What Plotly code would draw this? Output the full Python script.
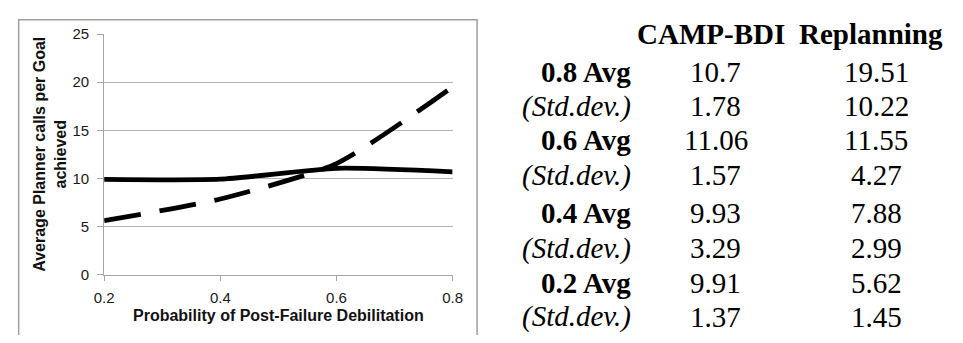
import plotly.graph_objects as go

# ---- data ----
probability = [0.2, 0.4, 0.6, 0.8]
camp_avg = [9.91, 9.93, 11.06, 10.7]
replan_avg = [5.62, 7.88, 11.55, 19.51]
camp_std = [1.37, 3.29, 1.57, 1.78]
replan_std = [1.45, 2.99, 4.27, 10.22]
x_ticks = [0.2, 0.4, 0.6, 0.8]
y_ticks = [0, 5, 10, 15, 20, 25]
col_headers = ["CAMP-BDI", "Replanning"]

# The page puts the figure 8px in from each edge (default body margin), so the
# figure is sized to fit the 963x343 window exactly and positions are shifted.
OFF = 8
W, H = 963 - 2 * OFF, 343 - 2 * OFF


def px(x):
    return (x - OFF) / W


def py(y):
    return 1 - (y - OFF) / H


fig = go.Figure()
fig.add_trace(go.Scatter(
    x=probability, y=camp_avg, mode="lines", name="CAMP-BDI",
    line=dict(color="black", width=4.8, shape="spline", smoothing=0.6),
))
fig.add_trace(go.Scatter(
    x=probability, y=replan_avg, mode="lines", name="Replanning",
    line=dict(color="black", width=4.8, shape="spline", smoothing=0.6, dash="37px,19px"),
))

axis_font = dict(family="Liberation Sans", size=15, color="#1a1a1a")
fig.update_layout(
    width=W, height=H,
    margin=dict(l=0, r=0, t=0, b=0),
    paper_bgcolor="white", plot_bgcolor="white",
    showlegend=False,
    xaxis=dict(
        domain=[px(96), px(452)], range=[0.2, 0.8],
        tickvals=x_ticks, ticktext=[f"{v:.1f}" for v in x_ticks],
        showgrid=False, zeroline=False,
        showline=True, linecolor="#a6a6a6", linewidth=1,
        ticks="outside", ticklen=5, tickcolor="#a6a6a6", ticklabelstandoff=4,
        tickfont=axis_font,
    ),
    yaxis=dict(
        domain=[py(280), py(26)], range=[0, 25],
        tickvals=y_ticks, showgrid=True, gridcolor="#b5b5b5", gridwidth=1,
        zeroline=False, showline=True, linecolor="#a6a6a6", linewidth=1,
        ticks="outside", ticklen=6, tickcolor="#a6a6a6", ticklabelstandoff=5,
        tickfont=axis_font,
    ),
)

# outer chart border
fig.add_shape(type="rect", xref="paper", yref="paper",
              x0=px(8.7), x1=px(477), y0=py(360), y1=py(11),
              line=dict(color="#a0a0a0", width=1.5), layer="below")

title_font = dict(family="Liberation Sans", size=16, color="#111")
fig.add_annotation(xref="paper", yref="paper", x=px(274), y=py(323),
                   text="<b>Probability of Post-Failure Debilitation</b>",
                   showarrow=False, font=title_font, xanchor="center", yanchor="middle")
fig.add_annotation(xref="paper", yref="paper", x=px(41), y=py(153),
                   text="<b>Average Planner calls per Goal<br>achieved</b>",
                   showarrow=False, font=title_font, textangle=-90,
                   xanchor="center", yanchor="middle")

# ---- table ----
serif = "Liberation Serif"
fsize = 29
header_y = 26
row_y = [65.8, 102.2, 137.8, 175.0, 214.5, 251.7, 288.3, 324.0]
col_x = [721, 885]
label_x = 636
header_x = [716, 879]
for j, h in enumerate(col_headers):
    fig.add_annotation(xref="paper", yref="paper", x=px(header_x[j]), y=py(header_y),
                       text=f"<b>{h}</b>", showarrow=False,
                       font=dict(family=serif, size=fsize, color="black"),
                       xanchor="center", yanchor="middle")

rows = []
for i in range(len(probability) - 1, -1, -1):
    rows.append((f"<b>{probability[i]:.1f} Avg</b>", camp_avg[i], replan_avg[i]))
    rows.append(("<i>(Std.dev.)</i>", camp_std[i], replan_std[i]))

for r, (label, a, b) in enumerate(rows):
    yy = py(row_y[r])
    fig.add_annotation(xref="paper", yref="paper", x=px(label_x), y=yy, text=label,
                       showarrow=False, font=dict(family=serif, size=fsize, color="black"),
                       xanchor="right", yanchor="middle")
    for j, v in enumerate([a, b]):
        fig.add_annotation(xref="paper", yref="paper", x=px(col_x[j]), y=yy, text=str(v),
                           showarrow=False, font=dict(family=serif, size=fsize, color="black"),
                           xanchor="center", yanchor="middle")

fig.write_html("out.html")
